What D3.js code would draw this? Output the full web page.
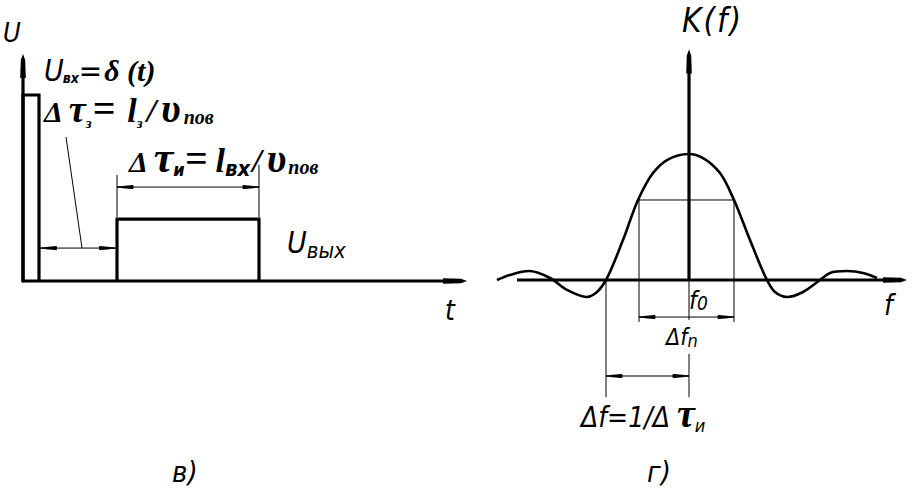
<!DOCTYPE html>
<html><head><meta charset="utf-8">
<script src="https://cdn.jsdelivr.net/npm/d3@7"></script>
<style>
body{margin:0;background:#fff;}
svg{display:block;}
.cad{font-family:"DejaVu Sans Condensed","DejaVu Sans",sans-serif;font-style:oblique;}
.ser{font-family:"Liberation Serif","Times New Roman",serif;font-style:italic;font-weight:bold;}
</style>
</head><body>
<svg id="c" width="912" height="490"></svg>
<script>
// ---- Data: left panel (time domain) ----
const pulseStart = [0, 5.875];      // t where pulses begin
const pulseEnd   = [1, 14.75];      // t where pulses end
const pulseLevel = [1, 0.333];      // U level of input / output pulse
const tAxisEnd = 27.75, uAxisTop = 1.22;
const delayDimU = 0.177, widthDimU = 0.505;

// ---- Data: right panel (spectrum) ----
const specF = [-9.6,-8.95,-7.95,-6.95,-6.1,-5.1,-4.6,-4.15,-3.3,-2.55,-1.8,-1.1,0,0.7,1.55,2.25,3.05,3.9,4.3,4.9,5.7,6.55,7.05,7.9,8.7,9.4];
const specK = [0,0.04,0.071,0.016,-0.079,-0.135,-0.095,0,0.317,0.635,0.849,0.952,1.0,0.968,0.849,0.635,0.317,0,-0.095,-0.135,-0.095,0,0.056,0.071,0.056,0.016];
const bandF = [-2.5, 2.25];   // passband edges
const bandK = 0.635;
const firstZeroF = -4.15;
const fAxis = [-8.6, 10.9], kAxisTop = 1.83;

const svg = d3.select('#c');
const xT = d3.scaleLinear().domain([0, 27.75]).range([23, 467]);
const yU = d3.scaleLinear().domain([0, 1]).range([281, 95]);
const xF = d3.scaleLinear().domain([-10, 10]).range([489, 889]);
const yK = d3.scaleLinear().domain([0, 1]).range([280, 154]);

function line(x1,y1,x2,y2,w){
  svg.append('line').attr('x1',x1).attr('y1',y1).attr('x2',x2).attr('y2',y2)
    .attr('stroke','#000').attr('stroke-width',w).attr('stroke-linecap','butt');
}
function axisArrow(x,y,dir){
  const p = dir==='right'
    ? [[x-24,y-2.8],[x-6,y-2.2],[x,y],[x-6,y+2.2],[x-24,y+2.8]]
    : [[x-2.8,y+24],[x-2.2,y+6],[x,y],[x+2.2,y+6],[x+2.8,y+24]];
  svg.append('path').attr('d','M'+p.join('L')+'Z').attr('fill','#000');
}
function dimArrow(x,y,s){ // slim drafting arrowhead, tip at x; s=+1 right, -1 left
  const L=16, h=1.6;
  svg.append('path').attr('d',`M${x},${y}L${x-s*L},${y-h}L${x-s*L},${y+h}Z`)
    .attr('fill','#fff').attr('stroke','#000').attr('stroke-width',1);
  line(x-s*L*0.35,y,x-s*L,y,2.2);
}
function dimension(x1,x2,y){
  line(x1,y,x2,y,1);
  dimArrow(x1,y,-1); dimArrow(x2,y,1);
}

// ===== Left panel =====
line(xT(0), yU(0), xT(tAxisEnd)-8, yU(0), 3.2);
axisArrow(xT(tAxisEnd), yU(0), 'right');
line(xT(0), yU(0)+1.5, xT(0), yU(uAxisTop)+8, 3.2);
axisArrow(xT(0), yU(uAxisTop), 'up');

pulseStart.forEach((s,i)=>{
  const d = `M${xT(s)},${yU(0)}V${yU(pulseLevel[i])}H${xT(pulseEnd[i])}V${yU(0)}`;
  svg.append('path').attr('d',d).attr('fill','none').attr('stroke','#000')
    .attr('stroke-width',3.2).attr('stroke-linejoin','miter');
});
dimension(xT(pulseEnd[0])+1.5, xT(pulseStart[1])-1.5, yU(delayDimU));
line(66,137,82,yU(delayDimU),1);
line(xT(pulseStart[1]), yU(pulseLevel[1])-2, xT(pulseStart[1]), yU(0.57), 1);
line(xT(pulseEnd[1]), yU(pulseLevel[1])-2, xT(pulseEnd[1]), yU(0.625), 1);
dimension(xT(pulseStart[1]), xT(pulseEnd[1]), yU(widthDimU));

// ===== Right panel =====
line(xF(fAxis[0]), yK(0), xF(fAxis[1])-8, yK(0), 3.2);
axisArrow(xF(fAxis[1]), yK(0), 'right');
line(xF(0), yK(0), xF(0), yK(kAxisTop)+8, 3.2);
axisArrow(xF(0), yK(kAxisTop), 'up');

const pts = specF.map((f,i)=>[xF(f), yK(specK[i])]);
svg.append('path').attr('d', d3.line().curve(d3.curveCatmullRom.alpha(0.5))(pts))
  .attr('fill','none').attr('stroke','#000').attr('stroke-width',2.6);

line(xF(bandF[0]), yK(bandK), xF(bandF[1]), yK(bandK), 1);
bandF.forEach(f=>line(xF(f), yK(bandK), xF(f), yK(-0.333), 1));
line(xF(0), yK(0), xF(0), yK(-0.317), 1);
dimension(xF(bandF[0]), xF(bandF[1]), yK(-0.294));
line(xF(firstZeroF), yK(0), xF(firstZeroF), yK(-0.93), 1);
line(xF(0), yK(-0.587), xF(0), yK(-0.93), 1);
dimension(xF(firstZeroF), xF(0), yK(-0.762));

// ===== Texts =====
function txt(x,y,cls,size,parts){
  const t = svg.append('text').attr('x',x).attr('y',y).attr('class',cls).attr('font-size',size);
  parts.forEach(p=>{
    const s = t.append('tspan').text(p.t);
    if(p.dx!=null) s.attr('dx',p.dx);
    if(p.dy!=null) s.attr('dy',p.dy);
    if(p.fs) s.attr('font-size',p.fs);
    if(p.cls) s.attr('class',p.cls);
    if(p.fw) s.attr('font-weight',p.fw);
  });
  return t;
}
txt(3,42,'cad',27,[{t:'U'}]);
txt(44,81,'cad',30,[{t:'U'},{t:'вх',fs:14,fw:'bold',dy:2,dx:-1},{t:'=',fs:31,dy:-2},{t:'δ (t)',cls:'ser',dx:2}]);
txt(44,122,'ser',30,[{t:'Δ'},{t:'τ',fs:38,dx:6},{t:'з',fs:15,dy:6},{t:'=',fs:40,dy:-6,dx:1},{t:'l',fs:34,dx:12},{t:'з',fs:15,dy:6},{t:'/',fs:34,dy:-6,dx:4},{t:'υ',fs:40,dx:5},{t:'пов',fs:20,dy:2,dx:3}]);
txt(129,172,'ser',30,[{t:'Δ'},{t:'τ',fs:44,dx:6},{t:'и',fs:18,dy:4,cls:'cad'},{t:'=',fs:40,dy:-4},{t:'l',fs:34,dx:8},{t:'вх',fs:22,dy:4,cls:'cad',fw:'bold'},{t:'/',fs:34,dy:-4,dx:2},{t:'υ',fs:40,dx:5},{t:'пов',fs:20,dy:2,dx:2}]);
txt(287,253,'cad',30,[{t:'U'},{t:'вых',fs:22,dy:5}]);
txt(445,320,'cad',28,[{t:'t'}]);
txt(682,32,'cad',33,[{t:'K(f)'}]).attr('letter-spacing',2);
txt(884,315,'cad',28,[{t:'f'}]);
txt(689,309,'cad',25,[{t:'f'},{t:'0',fs:19,dy:1}]);
txt(666,345,'cad',23,[{t:'Δf'},{t:'n',fs:18,dy:2}]);
txt(581,427,'cad',28,[{t:'Δf=1/Δ'},{t:'τ',cls:'ser',fs:40,dx:7},{t:'и',fs:18,dy:5}]);
txt(172,482,'cad',29,[{t:'в)'}]);
txt(647,482,'cad',29,[{t:'г)'}]);
</script>
</body></html>
